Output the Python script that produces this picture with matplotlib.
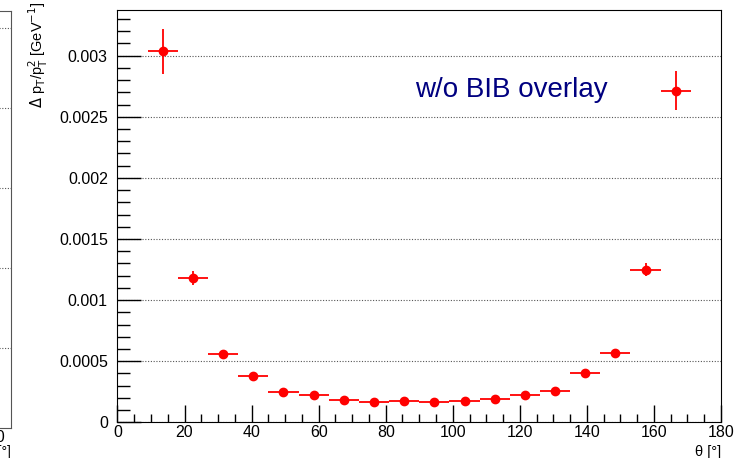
#!/usr/bin/env python3
"""
Resolution vs polar angle, ROOT-style canvas.
"""
import matplotlib.pyplot as plt
from matplotlib.ticker import MultipleLocator, FuncFormatter

plt.rcParams['font.family'] = ['Liberation Sans', 'DejaVu Sans']

# bin centres (deg), half bin width and measured values
theta = [13.5, 22.5, 31.5, 40.5, 49.5, 58.5, 67.5, 76.5, 85.5,
         94.5, 103.5, 112.5, 121.5, 130.5, 139.5, 148.5, 157.5, 166.5]
theta_err = [4.5] * len(theta)
reso = [0.003035, 0.001180, 0.000560, 0.000382, 0.000248, 0.000221,
        0.000186, 0.000167, 0.000178, 0.000170, 0.000178, 0.000189,
        0.000222, 0.000260, 0.000406, 0.000567, 0.001250, 0.002715]
reso_err = [0.000185, 0.000055, 0.000022, 0.000015, 0.000012, 0.000012,
            0.000010, 0.000010, 0.000010, 0.000010, 0.000010, 0.000010,
            0.000012, 0.000014, 0.000016, 0.000020, 0.000050, 0.000160]

label_text = "w/o BIB overlay"

W, H = 754, 458
fig = plt.figure(figsize=(W / 100, H / 100), dpi=100)

# neighbouring panel, only its right edge is visible
axl = fig.add_axes([-0.3, 1 - 428 / H, 0.3 + 11 / W, (428 - 10.7) / H])
axl.set_xlim(0, 1)
axl.set_ylim(0, 5.21)
for y in [1, 2, 3, 4, 5]:
    axl.axhline(y, color='#555555', ls=(0, (1, 1.5)), lw=0.8)
axl.set_xticks([])
axl.set_yticks([])
for s in axl.spines.values():
    s.set_color('#555555')
fig.text(5 / W, 1 - 438 / H, "180", ha='right', va='center', fontsize=11.5)
fig.text(11 / W, 1 - 452 / H, "θ [°]", ha='right', va='center', fontsize=10)

# main panel
ax = fig.add_axes([117.5 / W, 1 - 422.3 / H, (721 - 117.5) / W, (422.3 - 9.5) / H])
ax.errorbar(theta, reso, xerr=theta_err, yerr=reso_err, fmt='o',
            color='red', ms=6, elinewidth=1.3, capsize=0)
ax.set_xlim(0, 180)
ax.set_ylim(0, 0.003378)

ax.xaxis.set_major_locator(MultipleLocator(20))
ax.xaxis.set_minor_locator(MultipleLocator(5))
ax.yaxis.set_major_locator(MultipleLocator(0.0005))
ax.yaxis.set_minor_locator(MultipleLocator(0.0001))
ax.yaxis.set_major_formatter(FuncFormatter(lambda v, p: "%g" % round(v, 6)))

ax.tick_params(axis='x', which='major', direction='in', length=12, width=1, pad=2, labelsize=11.5)
ax.tick_params(axis='x', which='minor', direction='in', length=6, width=1)
ax.tick_params(axis='y', which='major', direction='in', length=17, width=1, pad=7, labelsize=11.5)
ax.tick_params(axis='y', which='minor', direction='in', length=9, width=1)

ax.grid(axis='y', which='major', color='#555555', ls=(0, (1, 1.5)), lw=0.8)
ax.set_axisbelow(True)

ax.text(0.493, 0.805, label_text, transform=ax.transAxes, color='#000080',
        fontsize=20, ha='left', va='center')

fig.text(721 / W, 1 - 452 / H, "θ [°]", ha='right', va='center', fontsize=10.5)
fig.text(38 / W, 1 - 2 / H, r"$\Delta$ p$_\mathrm{T}$/p$_\mathrm{T}^2$ [GeV$^{-1}$]",
         rotation=90, ha='center', va='top', fontsize=10.5)

fig.savefig("out.png", dpi=100)
